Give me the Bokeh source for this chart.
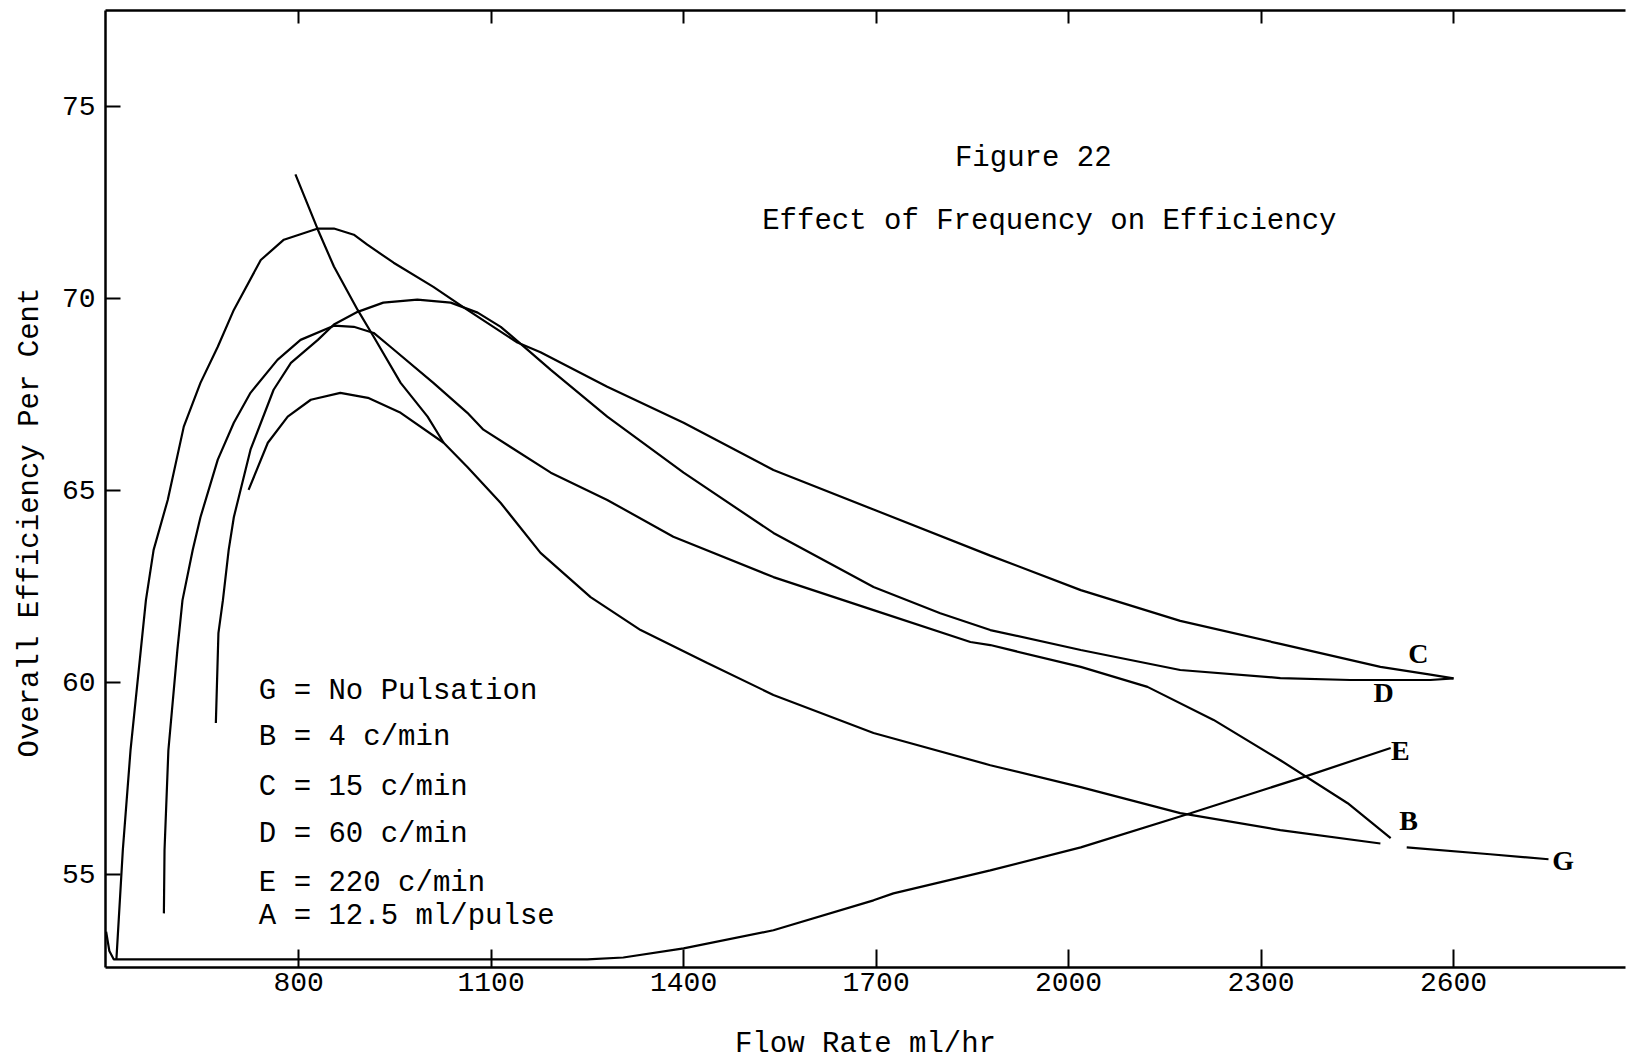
from bokeh.plotting import figure
from bokeh.models import FixedTicker, LinearAxis, Range1d, Title, CustomJSTickFormatter
from bokeh.core.properties import value
from bokeh.embed import file_html
from bokeh.resources import INLINE

# ---------------- data ----------------
x_ticks = [800, 1100, 1400, 1700, 2000, 2300, 2600]
y_ticks = [55, 60, 65, 70, 75]

# C = 15 c/min
c_x = [516, 526, 538, 554, 562, 574, 596, 621, 647, 674, 699, 741, 777, 830, 855,
       886, 907, 948, 1010, 1063, 1141, 1177, 1281, 1400, 1540, 1696, 1878, 2019,
       2174, 2330, 2486, 2564, 2600]
c_y = [52.78, 55.63, 58.23, 60.84, 62.14, 63.45, 64.75, 66.66, 67.8, 68.74, 69.7,
       71.0, 71.53, 71.82, 71.82, 71.66, 71.4, 70.93, 70.3, 69.7, 68.85, 68.6,
       67.7, 66.76, 65.53, 64.5, 63.3, 62.4, 61.6, 61.0, 60.4, 60.2, 60.1]

# D = 60 c/min
d_x = [671, 675, 682, 691, 699, 725, 761, 788, 830, 855, 892, 932, 985, 1037,
       1079, 1115, 1157, 1193, 1281, 1400, 1540, 1696, 1800, 1878, 2019, 2174,
       2330, 2439, 2564, 2600]
d_y = [58.94, 61.28, 62.14, 63.45, 64.3, 66.06, 67.62, 68.32, 68.92, 69.32, 69.65,
       69.89, 69.97, 69.89, 69.63, 69.26, 68.66, 68.14, 66.92, 65.46, 63.89, 62.48,
       61.8, 61.36, 60.84, 60.32, 60.11, 60.06, 60.06, 60.1]

# B = 4 c/min
b_x = [590, 591, 597, 611, 619, 635, 647, 674, 699, 725, 767, 803, 855, 886, 917,
       943, 1010, 1063, 1088, 1193, 1281, 1384, 1540, 1696, 1847, 1878, 2019, 2123,
       2226, 2330, 2435, 2502]
b_y = [53.98, 55.63, 58.23, 60.84, 62.14, 63.45, 64.3, 65.8, 66.76, 67.54, 68.4,
       68.92, 69.29, 69.26, 69.1, 68.74, 67.8, 67.02, 66.58, 65.46, 64.75, 63.79,
       62.74, 61.88, 61.05, 60.97, 60.4, 59.88, 59.02, 57.97, 56.85, 55.94]

# G = No Pulsation (main branch, with a break near the "B" label)
g_x = [722, 752, 783, 819, 865, 908, 959, 1026, 1063, 1115, 1177, 1255, 1333,
       1437, 1540, 1696, 1878, 2019, 2174, 2330, 2486, float("nan"), 2527, 2657, 2748]
g_y = [65.01, 66.24, 66.92, 67.36, 67.54, 67.41, 67.02, 66.24, 65.61, 64.67, 63.37,
       62.22, 61.36, 60.5, 59.67, 58.68, 57.84, 57.27, 56.59, 56.15, 55.8,
       float("nan"), 55.7, 55.52, 55.39]

# G upper (steep) branch joining the main G curve
g2_x = [795, 830, 855, 892, 917, 959, 1001, 1026]
g2_y = [73.23, 71.79, 70.83, 69.7, 69.0, 67.8, 66.92, 66.24]

# E = 220 c/min
e_x = [500, 505, 512, 800, 1100, 1250, 1306, 1400, 1540, 1696, 1727, 1878, 2019,
       2190, 2366, 2502]
e_y = [53.5, 53.0, 52.78, 52.78, 52.78, 52.78, 52.83, 53.07, 53.54, 54.32, 54.5,
       55.1, 55.7, 56.59, 57.53, 58.29]

legend_lines = ["G = No Pulsation", "B = 4 c/min", "C = 15 c/min",
                "D = 60 c/min", "E = 220 c/min", "A = 12.5 ml/pulse"]
curve_names = ["C", "D", "E", "B", "G"]

MONO = "Liberation Mono"
SERIF = "Liberation Serif"

# ---------------- figure ----------------
p = figure(width=1629, height=1063,
           x_range=Range1d(499, 2868), y_range=Range1d(52.57, 77.5),
           output_backend="svg", toolbar_location=None,
           min_border_left=105, min_border_right=4,
           min_border_top=10, min_border_bottom=96)
p.outline_line_color = None
p.grid.visible = False
p.background_fill_color = "white"
p.border_fill_color = "white"

xa = p.xaxis[0]
xa.ticker = FixedTicker(ticks=x_ticks)
xa.major_tick_in = 18
xa.major_tick_out = 0
xa.minor_tick_line_color = None
xa.axis_line_width = 2.5
xa.major_tick_line_width = 2
xa.major_label_text_font = MONO
xa.major_label_text_font_size = "28px"
xa.major_label_text_color = "black"
xa.major_label_standoff = 5
xa.axis_label = "Flow Rate ml/hr"
xa.axis_label_text_font = MONO
xa.axis_label_text_font_size = "29px"
xa.axis_label_text_font_style = "normal"
xa.axis_label_text_color = "black"
xa.axis_label_standoff = 34

ya = p.yaxis[0]
ya.ticker = FixedTicker(ticks=y_ticks)
ya.major_tick_in = 15
ya.major_tick_out = 0
ya.minor_tick_line_color = None
ya.axis_line_width = 2.5
ya.major_tick_line_width = 2
ya.major_label_text_font = MONO
ya.major_label_text_font_size = "28px"
ya.major_label_text_color = "black"
ya.major_label_standoff = 10

top = LinearAxis(ticker=FixedTicker(ticks=x_ticks),
                 formatter=CustomJSTickFormatter(code="return ''"))
top.major_tick_in = 13
top.major_tick_out = 0
top.minor_tick_line_color = None
top.axis_line_width = 2.5
top.major_tick_line_width = 2
top.major_label_standoff = 0
p.add_layout(top, "above")

# y axis title, drawn as a left-side title so it can sit lower than centre
ytitle = Title(text="Overall Efficiency Per Cent", align="left", offset=210,
               text_font=MONO, text_font_size="29px", text_font_style="normal",
               text_color="black", standoff=23)
p.add_layout(ytitle, "left")

# ---------------- curves ----------------
lw = 2.2
for xs, ys in [(c_x, c_y), (d_x, d_y), (b_x, b_y), (g_x, g_y), (g2_x, g2_y), (e_x, e_y)]:
    p.line(xs, ys, line_color="black", line_width=lw)

# ---------------- texts ----------------
p.text(x=[1945, 1970], y=[73.64, 72.0],
       text=["Figure 22", "Effect of Frequency on Efficiency"],
       text_font=value(MONO), text_font_size=value("29px"),
       text_align="center", text_baseline="alphabetic", text_color="black")

p.text(x=[738] * 6, y=[59.77, 58.55, 57.27, 56.04, 54.76, 53.90],
       text=legend_lines,
       text_font=value(MONO), text_font_size=value("29px"),
       text_align="left", text_baseline="alphabetic", text_color="black")

p.text(x=[2545, 2491, 2517, 2530, 2771], y=[60.74, 59.73, 58.21, 56.39, 55.37],
       text=curve_names,
       text_font=value(SERIF), text_font_size=value("28px"), text_font_style="bold",
       text_align="center", text_baseline="alphabetic", text_color="black")

open("out.html", "w").write(file_html(p, INLINE))
